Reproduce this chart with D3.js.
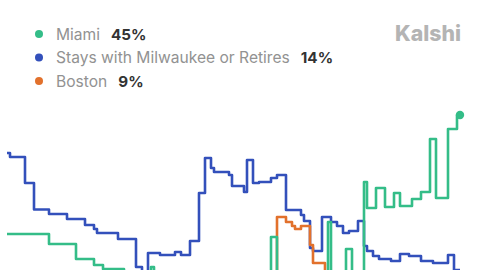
<!DOCTYPE html>
<html>
<head>
<meta charset="utf-8">
<script src="https://cdn.jsdelivr.net/npm/d3@7"></script>
<style>
  body { margin: 0; background: #fff; }
  svg { display: block; font-family: Inter, "Noto Sans", sans-serif; }
</style>
</head>
<body>
<div id="chart"></div>
<script>
// legend
const names = ["Miami", "Stays with Milwaukee or Retires", "Boston"];
const latest = ["45%", "14%", "9%"];
const colors = ["#34bd88", "#3350bb", "#e2712c"];

// day index and chance (%) at each change of level
const miamiDays = [0, 14, 23, 29, 32, 39, 48, 49, 88, 90, 107, 108, 113, 115, 119, 120, 123, 126, 129, 131, 135, 138, 141, 143, 147, 150, 151];
const miamiVals = [21.2, 19.2, 16.2, 15.0, 14.2, 12.6, 14.6, 12.6, 20.6, 12.6, 23.6, 12.6, 18.2, 12.6, 31.6, 26.4, 30.4, 26.6, 29.4, 26.8, 28.2, 29.6, 40.2, 28.4, 42.2, 45, 45];

const stayDays = [0, 1, 6, 9, 14, 20, 26, 29, 30, 37, 43, 45, 47, 51, 56, 58, 61, 64, 66, 68, 69, 74, 75, 79, 80, 82, 84, 88, 90, 93, 98, 99, 101, 102, 105, 108, 110, 112, 114, 117, 119, 120, 122, 124, 128, 131, 134, 138, 142, 147, 149, 151];
const stayVals = [37.4, 36.6, 31.4, 26.1, 25.2, 24.2, 23.0, 22.2, 21.4, 20.2, 14.6, 13.2, 17.4, 17.0, 17.6, 17.0, 19.8, 29.4, 36.4, 34.4, 33.6, 33.0, 30.8, 29.6, 36.0, 31.4, 31.6, 32.4, 33.0, 26.0, 25.0, 23.8, 18.4, 17.8, 24.6, 23.6, 22.8, 21.4, 21.8, 23.8, 18.8, 17.8, 16.8, 16.2, 15.8, 17.2, 16.8, 15.8, 15.4, 17.0, 14.0, 14.0];

const bostonDays = [0, 90, 93, 95, 96, 98, 101, 102, 106, 151];
const bostonVals = [4, 24.6, 23.6, 22.8, 22.2, 22.8, 19.0, 15.4, 11, 9];

const width = 480, height = 270;

const svg = d3.select("#chart").append("svg")
  .attr("width", width)
  .attr("height", height);

// the plot runs past the bottom edge of the frame
const x = d3.scaleLinear().domain([0, 151]).range([7, 460]);
const y = d3.scaleLinear().domain([0, 50]).range([340, 90]);

const line = d3.line()
  .x(d => x(d[0]))
  .y(d => y(d[1]))
  .curve(d3.curveStepAfter);

const series = [
  { days: stayDays, vals: stayVals, color: colors[1] },
  { days: bostonDays, vals: bostonVals, color: colors[2] },
  { days: miamiDays, vals: miamiVals, color: colors[0] }
];

series.forEach(s => {
  svg.append("path")
    .datum(d3.zip(s.days, s.vals))
    .attr("d", line)
    .attr("fill", "none")
    .attr("stroke", s.color)
    .attr("stroke-width", 2.6)
    .attr("stroke-linejoin", "round");
});

// end marker on the leader
const last = miamiDays.length - 1;
svg.append("circle")
  .attr("cx", x(miamiDays[last]))
  .attr("cy", y(miamiVals[last]))
  .attr("r", 4.2)
  .attr("fill", colors[0]);

// legend
const legend = svg.append("g");
names.forEach((n, i) => {
  const row = legend.append("g").attr("transform", `translate(0,${34 + i * 23.5})`);
  row.append("circle").attr("cx", 39).attr("cy", 0).attr("r", 4).attr("fill", colors[i]);
  const t = row.append("text")
    .attr("x", 56).attr("y", 5.5)
    .attr("font-size", 15.6)
    .attr("fill", "#929292")
    .text(n);
  const w = t.node().getComputedTextLength();
  row.append("text")
    .attr("x", 56 + w + 11).attr("y", 5.5)
    .attr("font-size", 15.2)
    .attr("font-weight", 700)
    .attr("fill", "#333")
    .text(latest[i]);
});

svg.append("text")
  .attr("x", 395).attr("y", 41)
  .attr("font-size", 22)
  .attr("font-weight", 800)
  .attr("fill", "#b4b4b4")
  .attr("textLength", 66)
  .attr("lengthAdjust", "spacingAndGlyphs")
  .text("Kalshi");
</script>
</body>
</html>
